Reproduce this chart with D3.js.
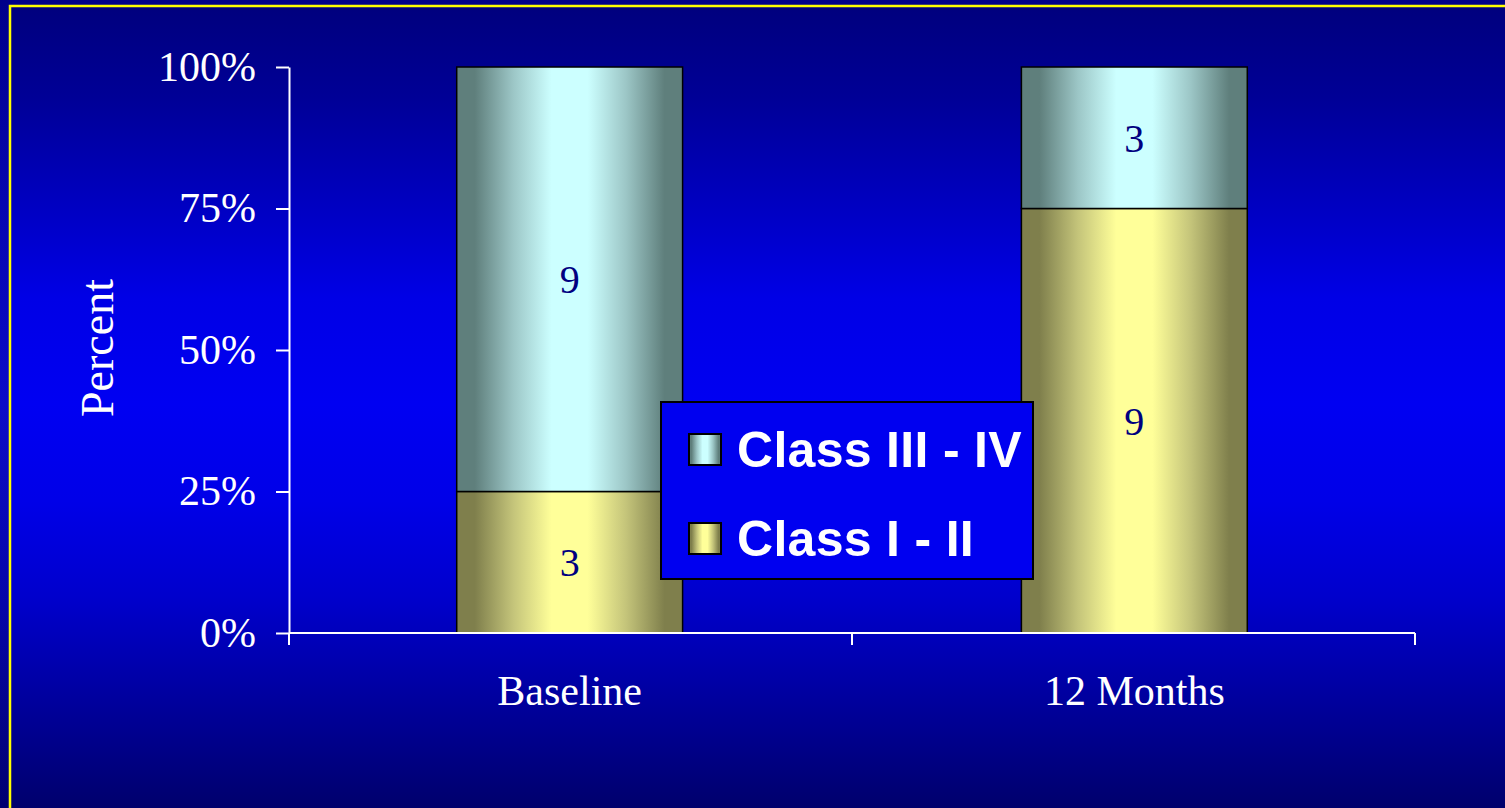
<!DOCTYPE html>
<html>
<head>
<meta charset="utf-8">
<script src="https://cdn.jsdelivr.net/npm/d3@7"></script>
<style>
  html, body { margin: 0; padding: 0; background: #000080; }
  svg { display: block; }
</style>
</head>
<body>
<svg id="chart" width="1505" height="808"></svg>
<script>
// Functional class distribution, counts per time point
const categories = ["Baseline", "12 Months"];
const classLow = [3, 9];    // Class I - II
const classHigh = [9, 3];   // Class III - IV
const seriesNames = ["Class I - II", "Class III - IV"];
const yTickValues = [0, 0.25, 0.5, 0.75, 1];

const W = 1505, H = 808;
const margin = { left: 289, right: 90, top: 67, bottom: 175 };

const svg = d3.select("#chart");
const defs = svg.append("defs");

// Slide background: vertical blue gradient
function vGrad(id, stops) {
  const g = defs.append("linearGradient").attr("id", id)
    .attr("gradientUnits", "userSpaceOnUse")
    .attr("x1", 0).attr("y1", 0).attr("x2", 0).attr("y2", H);
  stops.forEach(([o, c]) => g.append("stop").attr("offset", o).attr("stop-color", c));
}
vGrad("bgOuter", [[0, "#00008a"], [0.25, "#0606b0"], [0.5, "#0c0cc8"], [0.75, "#0606a8"], [1, "#000070"]]);
vGrad("bgInner", [[0, "#00007c"], [0.12, "#000096"], [0.25, "#0000c0"], [0.37, "#0000e6"],
                  [0.5, "#0000f2"], [0.62, "#0000e8"], [0.74, "#0000cc"], [0.87, "#00009c"], [1, "#00006c"]]);

// Horizontal "cylinder" shading for bars and swatches
function hGrad(id, edge, mid, center) {
  const g = defs.append("linearGradient").attr("id", id)
    .attr("x1", "0%").attr("y1", "0%").attr("x2", "100%").attr("y2", "0%");
  [[0, edge], [0.08, edge], [0.25, mid], [0.42, center], [0.58, center], [0.75, mid], [0.92, edge], [1, edge]]
    .forEach(([o, c]) => g.append("stop").attr("offset", o).attr("stop-color", c));
}
hGrad("fillLow", "#7f7f4c", "#c4c47a", "#ffff99");
hGrad("fillHigh", "#5f7f7c", "#9cc6c6", "#ccffff");
const fills = ["url(#fillLow)", "url(#fillHigh)"];

svg.append("rect").attr("width", W).attr("height", H).attr("fill", "url(#bgOuter)");
svg.append("rect").attr("x", 10).attr("y", 6).attr("width", W + 20).attr("height", H + 20)
  .attr("fill", "url(#bgInner)").attr("stroke", "#ffff00").attr("stroke-width", 2.5);

// Scales
const x = d3.scaleBand().domain(categories)
  .range([margin.left, W - margin.right])
  .paddingInner(0.6).paddingOuter(0.297);
const y = d3.scaleLinear().domain([0, 1]).range([H - margin.bottom, margin.top]);

// Stack as shares of the total
const rows = categories.map((c, i) => {
  const total = classLow[i] + classHigh[i];
  return { cat: c, low: classLow[i] / total, high: classHigh[i] / total, lowN: classLow[i], highN: classHigh[i] };
});
const stacked = d3.stack().keys(["low", "high"])(rows);

// Y axis
const yAxis = svg.append("g")
  .attr("transform", `translate(${margin.left},0)`)
  .call(d3.axisLeft(y).tickValues(yTickValues).tickFormat(d3.format(".0%")).tickSize(13).tickPadding(20).tickSizeOuter(0));
yAxis.select(".domain").attr("stroke", "#ffffff").attr("stroke-width", 2);
yAxis.selectAll(".tick line").attr("stroke", "#ffffff").attr("stroke-width", 2);
yAxis.selectAll(".tick text").attr("fill", "#ffffff")
  .style("font-family", "'Liberation Serif', 'Times New Roman', serif").style("font-size", "42px");

// Bars
const layer = svg.append("g").selectAll("g").data(stacked).join("g")
  .attr("fill", (d, i) => fills[i]);
layer.selectAll("rect").data(d => d).join("rect")
  .attr("x", d => x(d.data.cat))
  .attr("width", x.bandwidth())
  .attr("y", d => y(d[1]))
  .attr("height", d => y(d[0]) - y(d[1]))
  .attr("stroke", "#000000").attr("stroke-width", 1.5);

// Segment counts
const countKey = ["lowN", "highN"];
stacked.forEach((s, si) => {
  svg.append("g").selectAll("text").data(s).join("text")
    .attr("x", d => x(d.data.cat) + x.bandwidth() / 2)
    .attr("y", d => y((d[0] + d[1]) / 2))
    .attr("dy", "0.35em")
    .attr("text-anchor", "middle")
    .attr("fill", "#000080")
    .style("font-family", "'Liberation Serif', 'Times New Roman', serif").style("font-size", "40px")
    .text(d => d.data[countKey[si]]);
});

// X axis: baseline with ticks at category boundaries
const x0 = x.range()[0], x1 = x.range()[1], yBase = y(0);
const xg = svg.append("g");
xg.append("line").attr("x1", x0).attr("x2", x1).attr("y1", yBase).attr("y2", yBase)
  .attr("stroke", "#ffffff").attr("stroke-width", 2);
const bounds = d3.range(categories.length + 1).map(i => x0 + i * (x1 - x0) / categories.length);
xg.selectAll(".bt").data(bounds).join("line").attr("class", "bt")
  .attr("x1", d => d).attr("x2", d => d).attr("y1", yBase).attr("y2", yBase + 12)
  .attr("stroke", "#ffffff").attr("stroke-width", 2);
const xAxis = svg.append("g").attr("transform", `translate(0,${yBase})`)
  .call(d3.axisBottom(x).tickSize(0).tickPadding(42));
xAxis.select(".domain").remove();
xAxis.selectAll(".tick text").attr("fill", "#ffffff")
  .style("font-family", "'Liberation Serif', 'Times New Roman', serif").style("font-size", "42px");

// Y axis title
svg.append("text")
  .attr("transform", "translate(113,348) rotate(-90)")
  .attr("text-anchor", "middle")
  .attr("fill", "#ffffff")
  .style("font-family", "'Liberation Serif', 'Times New Roman', serif").style("font-size", "46px")
  .text("Percent");

// Legend
const legend = svg.append("g").attr("transform", "translate(661,402)");
legend.append("rect").attr("width", 372).attr("height", 177)
  .attr("fill", "#0000f0").attr("stroke", "#000000").attr("stroke-width", 2);
const legendItems = [1, 0]; // Class III - IV listed first
legendItems.forEach((si, k) => {
  const g = legend.append("g").attr("transform", `translate(28,${32 + k * 89})`);
  g.append("rect").attr("width", 32).attr("height", 31)
    .attr("fill", fills[si]).attr("stroke", "#000000").attr("stroke-width", 2);
  g.append("text").attr("x", 48).attr("y", 33)
    .attr("fill", "#ffffff")
    .style("font-family", "'Liberation Sans', Arial, sans-serif").style("font-weight", "bold").style("font-size", "50px")
    .style("letter-spacing", "0.3px")
    .text(seriesNames[si]);
});
</script>
</body>
</html>
